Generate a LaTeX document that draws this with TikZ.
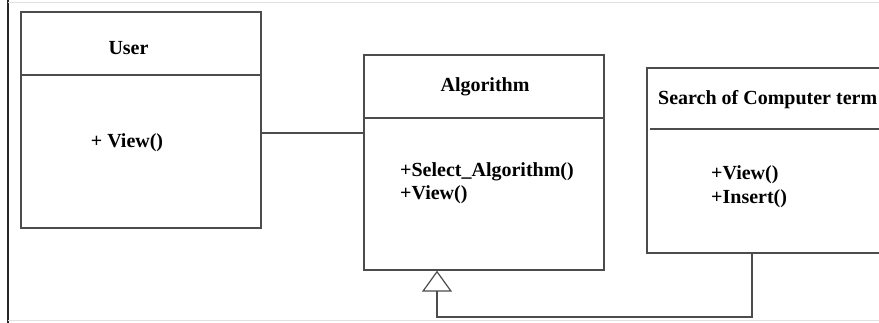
\documentclass[tikz,border=0pt]{standalone}
\usepackage{fontspec}
\setmainfont{Liberation Serif}
\usetikzlibrary{arrows.meta}

\begin{document}
\begin{tikzpicture}[x=1pt,y=-1pt]
    \tikzstyle{umlbox}=[draw=black!70, line width=1.4pt, rectangle, inner sep=0pt]
    \tikzstyle{umltext}=[font=\fontsize{20}{23}\selectfont\bfseries, inner sep=0pt]
    \tikzstyle{umlline}=[draw=black!70, line width=1.4pt]
    \useasboundingbox (0,0) rectangle (879,323);
    \clip (0,0) rectangle (879,323);
    % frame of the picture
    \draw[line width=1.2pt, black!85] (8,0) -- (8,323);
    \draw[line width=1pt, black!12] (8,3) -- (879,3);
    \draw[line width=1pt, black!12] (8,321) -- (879,321);
    % classes
    \node[umlbox, minimum width=240pt, minimum height=216pt] (user) at (141,120) {};
    \node[umlbox, minimum width=240pt, minimum height=215pt] (algo) at (484,162.5) {};
    \node[umlbox, minimum width=240pt, minimum height=185pt] (search) at (767,160.5) {};
    \draw[umlline] (user.west |- 0,75) -- (user.east |- 0,75);
    \draw[umlline] (algo.west |- 0,118) -- (algo.east |- 0,118);
    \draw[umlline] (650,129) -- (search.east |- 0,129);
    % names and operations
    \node[umltext] (usertitle) at (128.5,48) {User};
    \node[umltext] (userops) at (127,143) {+ View()};
    \node[umltext] (algotitle) at (485,87) {Algorithm};
    \node[umltext, anchor=west, align=left] (algoops) at (400,183.5) {+Select\_Algorithm()\\+View()};
    \node[umltext, anchor=west] (searchtitle) at (658,100) {Search of Computer term};
    \node[umltext, anchor=west, align=left, font=\fontsize{20}{24}\selectfont\bfseries] (searchops) at (711,187) {+View()\\+Insert()};
    % links
    \draw[umlline] (user.east |- 0,133) -- (algo.west |- 0,133);
    \draw[umlline, -{Triangle[open, width=30pt, length=21pt, line width=1.2pt]}]
        (search.south -| 752,0) |- (437,317) -- (algo.south -| 437,0);
\end{tikzpicture}
\end{document}
